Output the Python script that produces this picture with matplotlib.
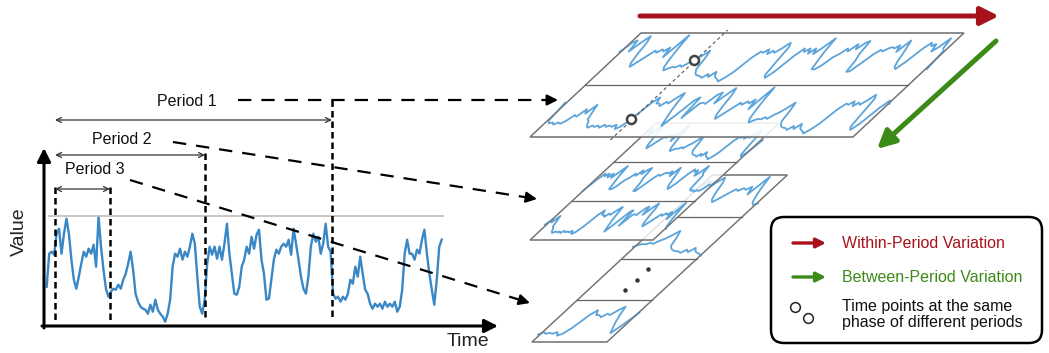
import numpy as np
import matplotlib
matplotlib.use('Agg')
import matplotlib.pyplot as plt
from matplotlib.patches import Polygon, FancyBboxPatch
from matplotlib.transforms import Affine2D, blended_transform_factory

plt.rcParams['font.family'] = ['Liberation Sans', 'DejaVu Sans']

# series (height above the time axis, in px)
values = [40, 73, 75, 72, 93, 98, 73, 93, 108, 93,
          67, 47, 38, 50, 63, 75, 70, 78, 73, 82,
          60, 110, 80, 57, 38, 30, 35, 38, 37, 42,
          38, 47, 53, 63, 75, 57, 33, 25, 20, 18,
          17, 13, 22, 15, 27, 17, 13, 10, 5, 13,
          27, 60, 73, 70, 78, 67, 75, 70, 80, 93,
          83, 50, 20, 13, 27, 63, 80, 72, 80, 68,
          80, 67, 83, 103, 73, 53, 33, 32, 40, 60,
          67, 80, 73, 90, 78, 92, 97, 67, 53, 27,
          28, 47, 67, 77, 73, 80, 83, 80, 87, 72,
          98, 83, 67, 50, 38, 33, 50, 80, 93, 85,
          90, 73, 83, 103, 80, 75, 33, 28, 30, 25,
          30, 27, 33, 47, 43, 60, 50, 70, 53, 37,
          33, 23, 18, 23, 20, 23, 18, 25, 20, 23,
          20, 25, 15, 20, 37, 73, 87, 73, 73, 67,
          77, 73, 87, 97, 73, 53, 37, 22, 47, 80,
          87]
period_names = ['Period 1', 'Period 2', 'Period 3']
period_start = 3.4
period_end = [115.5, 64.1, 25.6]
# which chunk of the series sits in each row of the 2D planes (None = dots)
plane_rows = [[0, 1], [0, 1, 2], [0, 1, None, 6]]
legend_labels = ['Within-Period Variation', 'Between-Period Variation',
                 'Time points at the same', 'phase of different periods']

W, H = 1049, 353
blue = '#3A87C6'
light_blue = '#5CA4DA'
red = '#A8121A'
green = '#3C8A18'

fig = plt.figure(figsize=(W / 100, H / 100), dpi=100)
ax = fig.add_axes([0, 0, 1, 1])
ax.set_xlim(0, W)
ax.set_ylim(H, 0)
ax.axis('off')
ax.patch.set_visible(False)
ax.set_zorder(2)

# left panel: the 1D series
n = len(values)
x0, x1, yb, yt = 46.7, 441.7, 326.7, 215.7
ax_ts = fig.add_axes([x0 / W, (H - yb) / H, (x1 - x0) / W, (yb - yt) / H])
ax_ts.set_xlim(0, n - 1)
ax_ts.set_ylim(0, 111)
ax_ts.axis('off')
ax_ts.set_zorder(1)
ax_ts.plot(np.arange(n), values, color=blue, lw=1.7, clip_on=False)
ax_ts.hlines(111, 0.5, n, color='#BDBDBD', lw=1.2, clip_on=False)

bt = blended_transform_factory(ax_ts.transData, ax.transData)

# axes arrows
ax.annotate('', xy=(44, 148), xytext=(44, 328),
            arrowprops=dict(arrowstyle='-|>', lw=2.2, color='k', mutation_scale=20, shrinkA=0, shrinkB=0))
ax.annotate('', xy=(498, 326), xytext=(42, 326),
            arrowprops=dict(arrowstyle='-|>', lw=2.2, color='k', mutation_scale=20, shrinkA=0, shrinkB=0))
ax.text(19, 232, 'Value', rotation=90, ha='center', va='center', fontsize=14, color='#222222')
ax.text(468, 342, 'Time', ha='center', va='center', fontsize=14, color='#222222')

# period boundaries and period arrows
vtops = [100, 153, 187]
arrow_y = [120, 155, 189]
label_xy = [(187, 102), (122, 140), (95, 170)]
ax.plot([period_start, period_start], [187, 320], transform=bt, color='k', lw=1.8, dashes=(2.6, 1.6))
for i in range(3):
    xe = period_end[i]
    ax.plot([xe, xe], [vtops[i], 320], transform=bt, color='k', lw=1.8, dashes=(2.6, 1.6))
    ax.annotate('', xy=(xe, arrow_y[i]), xytext=(period_start, arrow_y[i]), xycoords=bt, textcoords=bt,
                arrowprops=dict(arrowstyle='<->', lw=0.9, color='#333333', mutation_scale=9,
                                shrinkA=0, shrinkB=0))
    ax.text(label_xy[i][0], label_xy[i][1], period_names[i], ha='center', va='center',
            fontsize=11.5, color='#111111')

# dashed connectors to the planes
conn = [((238, 100), (558, 100)), ((173, 142), (537, 199)), ((130, 180), (530, 303))]
for (sx, sy), (ex, ey) in conn:
    d = np.hypot(ex - sx, ey - sy)
    mx, my = ex - (ex - sx) * 14 / d, ey - (ey - sy) * 14 / d
    ax.plot([sx, mx], [sy, my], color='k', lw=1.6, dashes=(6, 4.5))
    ax.annotate('', xy=(ex, ey), xytext=(mx, my),
                arrowprops=dict(arrowstyle='-|>', lw=1.6, color='k', mutation_scale=16, shrinkA=0, shrinkB=0))


# 2D planes
def row_transform(bx, by, width, row_h, skew, L):
    k = row_h / 118.0
    m = np.array([[width / L, skew * k, bx + skew * 3 * k],
                  [0.0, -k, by - 3 * k],
                  [0.0, 0.0, 1.0]])
    return Affine2D(m) + ax.transData


def draw_plane(bx, by, width, row_h, skew, L, rows, z, alpha):
    nr = len(rows)
    ht = nr * row_h
    corners = [(bx, by), (bx + width, by), (bx + width + skew * ht, by - ht), (bx + skew * ht, by - ht)]
    ax.add_patch(Polygon(corners, closed=True, fc='white', ec='#777777', lw=0.9, alpha=alpha, zorder=z))
    ax.add_patch(Polygon(corners, closed=True, fill=False, ec='#777777', lw=0.9, zorder=z + 0.2))
    trs = []
    for j, chunk in enumerate(rows):
        rb = by - (nr - 1 - j) * row_h
        rbx = bx + skew * (nr - 1 - j) * row_h
        if j > 0:
            ax.plot([rbx + skew * row_h, rbx + skew * row_h + width], [rb - row_h, rb - row_h],
                    color='#666666', lw=0.9, zorder=z + 0.2)
        tr = row_transform(rbx, rb, width, row_h, skew, L)
        trs.append(tr)
        if chunk is None:
            ax.plot([L * 0.5] * 3, [25, 55, 85], transform=tr, ls='none', marker='o', ms=2.2,
                    color='#333333', zorder=z + 0.3)
            continue
        s = period_start + chunk * L
        idx = np.arange(int(np.floor(s)), int(np.ceil(s + L)) + 1)
        ax.plot(idx - s, np.take(values, idx, mode='wrap'), transform=tr, color=light_blue,
                lw=1.3, zorder=z + 0.1)
    return trs


L1 = period_end[0] - period_start
L2 = period_end[1] - period_start
L3 = period_end[2] - period_start
draw_plane(532, 342, 75, 41.75, 1.08, L3, plane_rows[2], 2, 0.8)
draw_plane(530, 240, 123, 39, 1.08, L2, plane_rows[1], 3, 0.8)
trs1 = draw_plane(530, 137, 323, 52, 1.067, L1, plane_rows[0], 4, 0.88)

# same-phase points in the top plane
phase = 29
ax.plot([530 + 323 * phase / L1 - 1.067 * 3, 530 + 323 * phase / L1 + 1.067 * 107], [140, 30],
        color='#555555', lw=0.8, dashes=(3, 2.5), zorder=4.3)
for j in range(2):
    s = period_start + j * L1
    i = int(round(s + phase))
    ax.plot([i - s], [values[i]], transform=trs1[j], marker='o', ms=6.5, mfc='white',
            mec='#444444', mew=1.8, ls='none', zorder=4.5)

# variation arrows
ax.annotate('', xy=(999, 16), xytext=(640, 16),
            arrowprops=dict(arrowstyle='-|>', lw=3.6, color=red, mutation_scale=27, shrinkA=0, shrinkB=0))
ax.annotate('', xy=(877, 149), xytext=(996, 41),
            arrowprops=dict(arrowstyle='-|>', lw=3.6, color=green, mutation_scale=27, shrinkA=0, shrinkB=0))

# legend box
ax.add_patch(FancyBboxPatch((771, 217), 271, 126, boxstyle='round,pad=0,rounding_size=13',
                            lw=1.8, ec='k', fc='white', zorder=5))
ax.annotate('', xy=(826, 243), xytext=(793, 243),
            arrowprops=dict(arrowstyle='-|>', lw=2.4, color=red, mutation_scale=14, shrinkA=0, shrinkB=0),
            zorder=6)
ax.annotate('', xy=(826, 277), xytext=(793, 277),
            arrowprops=dict(arrowstyle='-|>', lw=2.4, color=green, mutation_scale=14, shrinkA=0, shrinkB=0),
            zorder=6)
ax.plot([795, 808], [307, 318], ls='none', marker='o', ms=7, mfc='white', mec='#222222', mew=1.1, zorder=6)
ax.text(842, 243, legend_labels[0], va='center', fontsize=11.5, color=red, zorder=6)
ax.text(842, 277, legend_labels[1], va='center', fontsize=11.5, color=green, zorder=6)
ax.text(842, 306, legend_labels[2], va='center', fontsize=11.5, color='#111111', zorder=6)
ax.text(842, 323, legend_labels[3], va='center', fontsize=11.5, color='#111111', zorder=6)

fig.savefig('out.png', dpi=100)
